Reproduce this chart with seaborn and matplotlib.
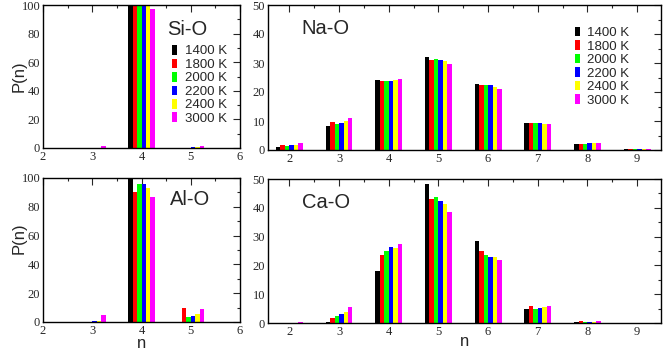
import numpy as np
import pandas as pd
import matplotlib
matplotlib.use('Agg')
import matplotlib.pyplot as plt
import seaborn as sns
from matplotlib.ticker import MultipleLocator

sns.set_style('white')
plt.rcParams['font.family'] = 'serif'
plt.rcParams['font.serif'] = ['Liberation Serif', 'DejaVu Serif']

temps = ['1400 K', '1800 K', '2000 K', '2200 K', '2400 K', '3000 K']
colors = ['#000000', '#ff0000', '#00ff00', '#0000ff', '#ffff00', '#ff00ff']

n_left = [3, 4, 5, 6]
n_right = [2, 3, 4, 5, 6, 7, 8, 9]

# rows: n, columns: temperatures
si_o = [[0, 0, 0, 0, 0.3, 1.3],
        [100, 100, 100, 100, 100, 97],
        [0, 0.3, 0.3, 0.5, 0.5, 1.5],
        [0, 0, 0, 0, 0, 0]]
al_o = [[0, 0, 0.3, 0.5, 1.0, 5.0],
        [100, 90.5, 96, 95.5, 93, 86.5],
        [0, 9.5, 3.5, 4.0, 5.5, 9.0],
        [0, 0, 0, 0, 0, 0.3]]
na_o = [[1.0, 1.7, 1.5, 1.6, 1.8, 2.4],
        [8.3, 9.7, 9.0, 9.3, 9.9, 11.0],
        [24.2, 23.7, 23.9, 23.9, 24.3, 24.6],
        [32.2, 30.9, 31.5, 31.2, 30.8, 29.8],
        [22.8, 22.5, 22.5, 22.4, 21.8, 21.0],
        [9.3, 9.3, 9.2, 9.3, 9.1, 9.0],
        [2.2, 2.2, 2.2, 2.3, 2.3, 2.4],
        [0.3, 0.3, 0.3, 0.3, 0.3, 0.4]]
ca_o = [[0, 0, 0, 0, 0, 0.3],
        [0.5, 1.7, 2.5, 3.1, 3.9, 5.6],
        [18.0, 23.7, 25.0, 26.3, 26.0, 27.3],
        [48.1, 43.1, 43.7, 42.3, 41.3, 38.6],
        [28.4, 25.0, 23.7, 22.9, 22.9, 22.0],
        [5.0, 6.0, 4.9, 5.2, 5.4, 5.8],
        [0.3, 0.7, 0.3, 0.5, 0.5, 0.8],
        [0, 0, 0, 0, 0, 0]]


def to_df(ns, vals):
    rows = []
    for n, row in zip(ns, vals):
        for t, v in zip(temps, row):
            rows.append({'n': n, 'P': v, 'T': t})
    return pd.DataFrame(rows)


def bars(ax, ns, vals):
    sns.barplot(data=to_df(ns, vals), x='n', y='P', hue='T', hue_order=temps,
                palette=colors, native_scale=True, width=0.54, gap=0,
                saturation=1, linewidth=0, ax=ax, legend=True)


def style(ax, xlim, ylim, xmaj, ymaj, ymin):
    ax.set_xlim(*xlim)
    ax.set_ylim(*ylim)
    ax.xaxis.set_major_locator(MultipleLocator(xmaj))
    ax.xaxis.set_minor_locator(MultipleLocator(0.5))
    ax.yaxis.set_major_locator(MultipleLocator(ymaj))
    ax.yaxis.set_minor_locator(MultipleLocator(ymin))
    ax.tick_params(which='both', direction='in', top=True, right=True,
                   labelsize=9, width=0.8, pad=2)
    ax.tick_params(which='major', length=5)
    ax.tick_params(which='minor', length=2.5)
    for s in ax.spines.values():
        s.set_linewidth(1.0)
        s.set_color('black')
    ax.set_xlabel('')
    ax.set_ylabel('')


fig = plt.figure(figsize=(6.64, 3.5), dpi=100)
W, H = 664, 350


def axes_px(x0, y0, x1, y1):
    return fig.add_axes([x0 / W, 1 - y1 / H, (x1 - x0) / W, (y1 - y0) / H])


ax1 = axes_px(43, 5, 240, 148)
ax2 = axes_px(268, 5, 661, 150)
ax3 = axes_px(43, 178, 240, 322)
ax4 = axes_px(268, 179, 661, 323)

bars(ax1, n_left, si_o)
bars(ax2, n_right, na_o)
bars(ax3, n_left, al_o)
bars(ax4, n_right, ca_o)

for ax in (ax1, ax3):
    style(ax, (2, 6), (0, 100), 1, 20, 10)
for ax in (ax2, ax4):
    style(ax, (1.57, 9.48), (0, 50), 1, 10, 5)

sans = ['Liberation Sans', 'DejaVu Sans']
leg_kw = dict(prop={'family': sans, 'size': 9.5}, frameon=False, handlelength=0.35,
              handleheight=0.75, handletextpad=0.6, labelspacing=0.08, borderpad=0,
              borderaxespad=0)
h, l = ax1.get_legend_handles_labels()
ax1.legend(h, l, loc='upper left', bbox_to_anchor=(0.655, 0.72), **leg_kw)
h, l = ax2.get_legend_handles_labels()
ax2.legend(h, l, loc='upper left', bbox_to_anchor=(0.781, 0.85), **leg_kw)
ax3.get_legend().remove()
ax4.get_legend().remove()

ax1.text(0.63, 0.79, 'Si-O', transform=ax1.transAxes, family=sans, fontsize=14.5)
ax3.text(0.645, 0.81, 'Al-O', transform=ax3.transAxes, family=sans, fontsize=14.5)
ax2.text(0.086, 0.80, 'Na-O', transform=ax2.transAxes, family=sans, fontsize=14.5)
ax4.text(0.086, 0.80, 'Ca-O', transform=ax4.transAxes, family=sans, fontsize=14.5)

ax1.set_ylabel('P(n)', family=sans, fontsize=12)
ax3.set_ylabel('P(n)', family=sans, fontsize=12)
ax1.yaxis.set_label_coords(-0.085, 0.5)
ax3.yaxis.set_label_coords(-0.085, 0.58)
ax3.set_xlabel('n', family=sans, fontsize=12)
ax4.set_xlabel('n', family=sans, fontsize=12)
ax3.xaxis.label.set_va('baseline')
ax4.xaxis.label.set_va('baseline')
ax3.xaxis.set_label_coords(0.5, -0.178)
ax4.xaxis.set_label_coords(0.5, -0.16)

fig.savefig('out.png', dpi=100)
